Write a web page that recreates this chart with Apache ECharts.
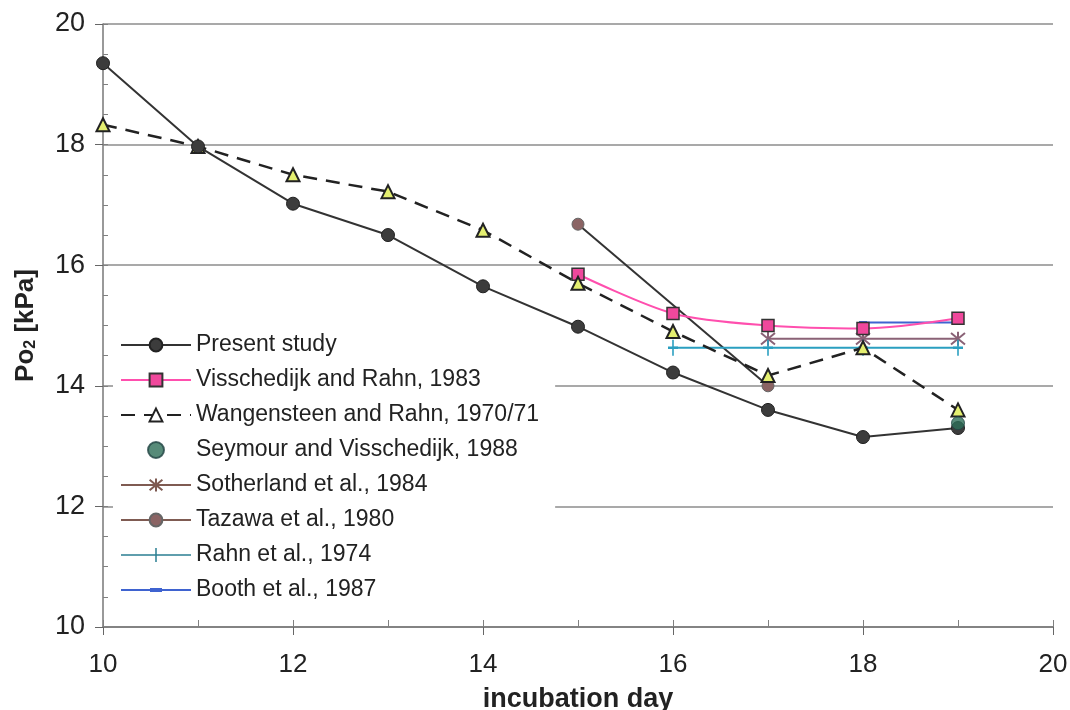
<!DOCTYPE html>
<html>
<head>
<meta charset="utf-8">
<title>Po2 during incubation</title>
<script src="https://cdn.jsdelivr.net/npm/echarts@6/dist/echarts.min.js"></script>
<style>
  html, body { margin: 0; padding: 0; background: #fff; }
  #chart { width: 1070px; height: 710px; }
</style>
</head>
<body>
<div id="chart"></div>
<script>
// Incubation days and Po2 (kPa) for each source
const days = [10, 11, 12, 13, 14, 15, 16, 17, 18, 19];
const presentStudy = [19.35, 17.97, 17.02, 16.5, 15.65, 14.98, 14.22, 13.6, 13.15, 13.3];
const wangensteen = [18.33, 17.97, 17.5, 17.22, 16.58, 15.7, 14.9, 14.17, 14.63, 13.6];

const visschedijkDays = [15, 16, 17, 18, 19];
const visschedijk = [15.85, 15.2, 15.0, 14.95, 15.12];

const seymourDays = [19];
const seymour = [13.38];

const sotherlandDays = [17, 18, 19];
const sotherland = [14.78, 14.78, 14.78];

const tazawaDays = [15, 17];
const tazawa = [16.68, 14.0];

const rahnDays = [16, 17, 18, 19];
const rahn = [14.63, 14.63, 14.63, 14.63];

const boothDays = [18, 19];
const booth = [15.05, 15.05];

const xTicks = { min: 10, max: 20, interval: 2, minorInterval: 1 };
const yTicks = { min: 10, max: 20, interval: 2, minorInterval: 0.5 };

const pairs = (xs, ys) => xs.map((x, i) => [x, ys[i]]);

const FONT = '"Liberation Sans", Arial, Helvetica, sans-serif';
const asterisk = 'path://M0,0L10,10M10,0L0,10M5,-1L5,11';
const plusMark = 'path://M0,5L10,5M5,0L5,10';
// legend glyphs: a short line with its marker, drawn as filled shapes
const rahnIcon = 'path://M0,7.25L70,7.25L70,8.75L0,8.75Z M34.25,1L35.75,1L35.75,15L34.25,15Z';
const boothIcon = 'path://M0,7L70,7L70,9L0,9Z M29,6L41,6L41,10L29,10Z M0,1L0.01,1L0.01,1.01Z M0,15L0.01,15L0.01,15.01Z';

const chart = echarts.init(document.getElementById('chart'), null, { renderer: 'canvas' });

// inward tick marks, drawn by a bare companion axis
const innerTickAxis = (t, position, len) => ({
  type: 'value', min: t.min, max: t.max, interval: t.minorInterval,
  position: position, offset: 0,
  axisLine: { show: false },
  axisTick: { show: true, inside: true, length: len, lineStyle: { color: '#808080' } },
  axisLabel: { show: false },
  splitLine: { show: false }
});

chart.setOption({
  backgroundColor: '#ffffff',
  animation: false,
  textStyle: { fontFamily: FONT },
  grid: { left: 103, right: 17, top: 24, bottom: 83, containLabel: false, outerBoundsMode: 'none' },
  xAxis: [
    {
      type: 'value', min: xTicks.min, max: xTicks.max, interval: xTicks.interval,
      position: 'bottom',
      name: 'incubation day',
      nameLocation: 'middle',
      nameGap: 59,
      nameTextStyle: { fontSize: 27, fontWeight: 'bold', color: '#222', fontFamily: FONT },
      axisLine: { show: true, lineStyle: { color: '#777', width: 1.5 } },
      axisTick: { show: true, length: 8, lineStyle: { color: '#666' } },
      axisLabel: { fontSize: 26, color: '#222', margin: 25, fontFamily: FONT },
      splitLine: { show: false }
    },
    innerTickAxis(xTicks, 'bottom', 7)
  ],
  yAxis: [
    {
      type: 'value', min: yTicks.min, max: yTicks.max, interval: yTicks.interval,
      position: 'left',
      name: '{b|Po}{s|2}{b| [kPa]}',
      nameLocation: 'middle',
      nameGap: 64,
      nameRotate: 90,
      nameTextStyle: {
        rich: {
          b: { fontSize: 26, fontWeight: 'bold', color: '#222', fontFamily: FONT },
          s: { fontSize: 16, fontWeight: 'bold', color: '#222', fontFamily: FONT, verticalAlign: 'bottom', padding: [10, 0, 0, 0] }
        }
      },
      axisLine: { show: true, lineStyle: { color: '#777', width: 1.5 } },
      axisTick: { show: true, length: 8, lineStyle: { color: '#666' } },
      axisLabel: { fontSize: 27, color: '#222', margin: 18, fontFamily: FONT },
      splitLine: { show: true, lineStyle: { color: '#8c8c8c', width: 1.5 } }
    },
    innerTickAxis(yTicks, 'left', 5)
  ],
  legend: {
    orient: 'vertical',
    left: 113,
    top: 327,
    padding: [6, 16, 6, 7],
    backgroundColor: '#ffffff',
    itemWidth: 70,
    itemHeight: 16,
    itemGap: 11,
    textStyle: { fontSize: 23, color: '#222', fontFamily: FONT, lineHeight: 24 },
    data: [
      { name: 'Present study' },
      { name: 'Visschedijk and Rahn, 1983' },
      { name: 'Wangensteen and Rahn, 1970/71', itemStyle: { color: '#ffffff' } },
      { name: 'Seymour and Visschedijk, 1988' },
      { name: 'Sotherland et al., 1984', lineStyle: { color: '#7f5b52' }, itemStyle: { borderColor: '#7f5b52' } },
      { name: 'Tazawa et al., 1980', lineStyle: { color: '#7f5b52' } },
      { name: 'Rahn et al., 1974', icon: rahnIcon, itemStyle: { color: '#2b7f92', borderWidth: 0 } },
      { name: 'Booth et al., 1987', icon: boothIcon, itemStyle: { color: '#3f63d0', borderWidth: 0 } }
    ]
  },
  series: [
    {
      name: 'Present study', type: 'line', z: 5,
      data: pairs(days, presentStudy),
      symbol: 'circle', symbolSize: 13,
      lineStyle: { color: '#333', width: 2 },
      itemStyle: { color: '#3c3c3c', borderColor: '#222', borderWidth: 1 }
    },
    {
      name: 'Visschedijk and Rahn, 1983', type: 'line', z: 4,
      data: pairs(visschedijkDays, visschedijk),
      smooth: 0.3,
      symbol: 'rect', symbolSize: 12,
      lineStyle: { color: '#ff4fae', width: 2 },
      itemStyle: { color: '#f0489c', borderColor: '#333', borderWidth: 1.5 }
    },
    {
      name: 'Wangensteen and Rahn, 1970/71', type: 'line', z: 4,
      data: pairs(days, wangensteen),
      symbol: 'triangle', symbolSize: 13,
      lineStyle: { color: '#222', width: 2.5, type: [14, 9] },
      itemStyle: { color: '#e4ef70', borderColor: '#222', borderWidth: 2 }
    },
    {
      name: 'Seymour and Visschedijk, 1988', type: 'scatter', z: 6,
      data: pairs(seymourDays, seymour),
      symbol: 'circle', symbolSize: 13,
      itemStyle: { color: '#2d6e57', borderColor: '#244', borderWidth: 1 }
    },
    {
      name: 'Sotherland et al., 1984', type: 'line', z: 3,
      data: pairs(sotherlandDays, sotherland),
      symbol: asterisk, symbolSize: 14,
      lineStyle: { color: '#8a6276', width: 2 },
      itemStyle: { color: '#8a6276', borderColor: '#8a6276', borderWidth: 2 }
    },
    {
      name: 'Tazawa et al., 1980', type: 'line', z: 3,
      data: pairs(tazawaDays, tazawa),
      symbol: 'circle', symbolSize: 12,
      lineStyle: { color: '#333', width: 2 },
      itemStyle: { color: '#8b6464', borderColor: '#666', borderWidth: 1 }
    },
    {
      name: 'Rahn et al., 1974', type: 'line', z: 3,
      data: pairs(rahnDays, rahn),
      symbol: plusMark, symbolSize: [10, 16],
      lineStyle: { color: '#2a9fc0', width: 2 },
      itemStyle: { color: '#2a9fc0', borderColor: '#2a9fc0', borderWidth: 2 }
    },
    {
      name: 'Booth et al., 1987', type: 'line', z: 3,
      data: pairs(boothDays, booth),
      symbol: 'rect', symbolSize: [8, 3],
      lineStyle: { color: '#3f63d0', width: 2 },
      itemStyle: { color: '#3f63d0' }
    }
  ]
});
</script>
</body>
</html>
